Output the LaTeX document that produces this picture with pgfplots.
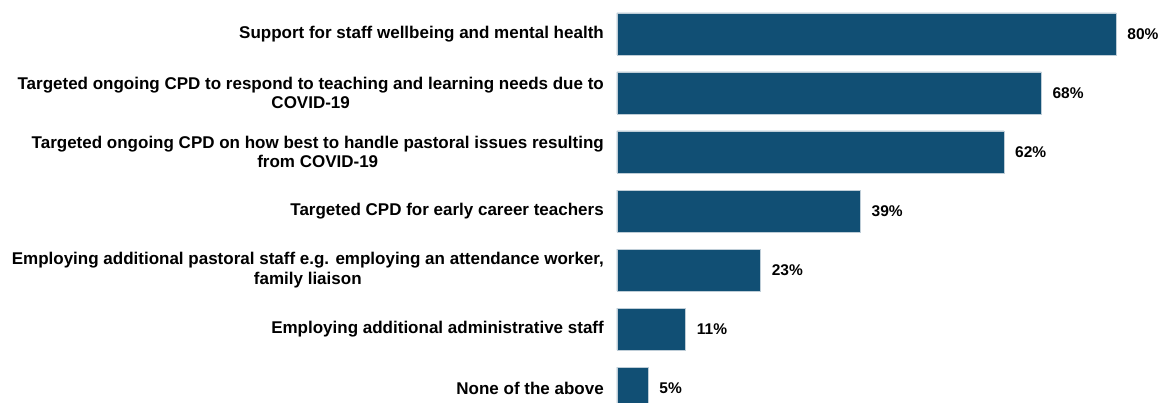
\documentclass[border=0pt]{standalone}
\usepackage{pgfplots}
\pgfplotsset{compat=1.18}
\usepackage{fontspec}
\setmainfont{Liberation Sans}
\definecolor{barcol}{RGB}{17,79,116}
\begin{document}
\begin{tikzpicture}
\begin{axis}[
  at={(271.5bp,201.5bp)}, anchor=center,
  scale only axis, width=543bp, height=403bp,
  xbar, bar width=42bp,
  xmin=0, xmax=87.02,
  ymin=-0.576, ymax=6.254, y dir=reverse,
  axis line style={draw=none}, tick style={draw=none},
  major tick length=0pt,
  xtick=\empty,
  ytick={0,1,2,3,4,5,6},
  yticklabels={
    {Support for staff wellbeing and mental health},
    {Targeted ongoing CPD to respond to teaching and learning needs due to\\COVID-19},
    {Targeted ongoing CPD on how best to handle pastoral issues resulting\\from COVID-19},
    {Targeted CPD for early career teachers},
    {Employing additional pastoral staff e.g. employing an attendance worker,\\family liaison},
    {Employing additional administrative staff},
    {None of the above}},
  yticklabel style={align=center, inner sep=0pt, anchor=east, xshift=-13bp,
    font=\fontsize{17bp}{19.5bp}\selectfont\bfseries},
  clip=true,
  point meta=x,
  /pgf/number format/assume math mode=true,
  nodes near coords={\pgfmathprintnumber{\pgfplotspointmeta}\%},
  nodes near coords style={anchor=west, inner sep=0pt, xshift=11bp,
    font=\fontsize{15.5bp}{18bp}\selectfont\bfseries, text=black},
]
\addplot[fill=barcol, draw={rgb,255:red,190;green,205;blue,215}, line width=0.6bp]
  coordinates {(80,0) (68,1) (62,2) (39,3) (23,4) (11,5) (5,6)};
\end{axis}
\pgfresetboundingbox
\path[use as bounding box] (-617bp,0) rectangle (543bp,403bp);
\end{tikzpicture}
\end{document}
